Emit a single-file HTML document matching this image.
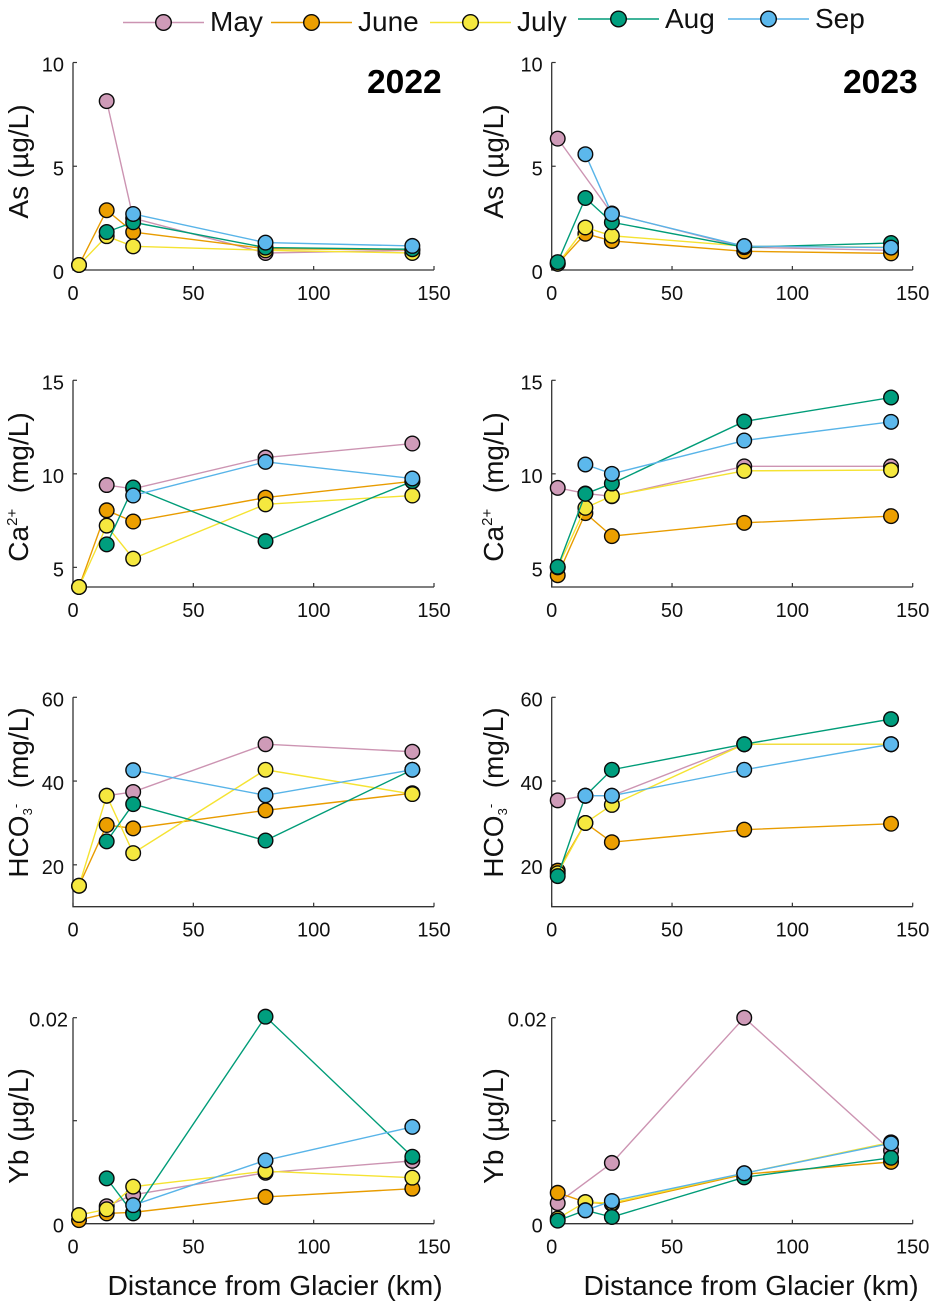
<!DOCTYPE html>
<html lang="en">
<head>
<meta charset="utf-8">
<title>Trace element concentrations vs distance from glacier</title>
<style>
  html, body { margin: 0; padding: 0; background: #fff; }
  svg { display: block; font-family: "Liberation Sans", Arial, sans-serif; }
</style>
</head>
<body>
<svg id="figure" xmlns="http://www.w3.org/2000/svg" width="935" height="1308" viewBox="0 0 935 1308">
  <g id="legend"></g>
  <g id="panels"></g>
  <text x="367" y="93" font-size="33.6" font-weight="bold" fill="#000">2022</text>
  <text x="843" y="93" font-size="33.6" font-weight="bold" fill="#000">2023</text>
  <text x="107.5" y="1295" font-size="28.2" fill="#111">Distance from Glacier (km)</text>
  <text x="583.5" y="1295" font-size="28.2" fill="#111">Distance from Glacier (km)</text>
</svg>
<script>
// ---- Data (null = no sample at that site) ----
const distanceKm = [2.5, 14, 25, 80, 141];
const xTicks = [0, 50, 100, 150];
const monthNames = ['May', 'June', 'July', 'Aug', 'Sep'];

const as2022May  = [null, 8.14, 2.5, 0.82, 0.95];
const as2022June = [0.24, 2.88, 1.83, 1.03, 0.98];
const as2022July = [0.24, 1.63, 1.14, 0.95, 0.82];
const as2022Aug  = [null, 1.83, 2.3, 1.08, 1.0];
const as2022Sep  = [null, null, 2.7, 1.32, 1.16];

const as2023May  = [6.33, null, 2.72, 1.1, 0.95];
const as2023June = [0.3, 1.75, 1.4, 0.9, 0.8];
const as2023July = [0.3, 2.05, 1.65, 1.15, 1.1];
const as2023Aug  = [0.38, 3.47, 2.3, 1.1, 1.3];
const as2023Sep  = [null, 5.58, 2.7, 1.15, 1.08];

const ca2022May  = [null, 9.4, 9.2, 10.87, 11.62];
const ca2022June = [3.95, 8.05, 7.45, 8.73, 9.6];
const ca2022July = [3.95, 7.23, 5.47, 8.37, 8.84];
const ca2022Aug  = [null, 6.23, 9.27, 6.4, 9.6];
const ca2022Sep  = [null, null, 8.84, 10.64, 9.75];

const ca2023May  = [9.25, 8.95, 8.8, 10.4, 10.4];
const ca2023June = [4.58, 7.9, 6.67, 7.38, 7.74];
const ca2023July = [5.0, 8.18, 8.82, 10.16, 10.2];
const ca2023Aug  = [5.03, 8.93, 9.48, 12.8, 14.08];
const ca2023Sep  = [null, 10.5, 10.0, 11.78, 12.78];

const hco2022May  = [null, 36.5, 37.4, 48.8, 47.0];
const hco2022June = [15, 29.5, 28.7, 33.0, 37.1];
const hco2022July = [15, 36.5, 22.8, 42.7, 36.9];
const hco2022Aug  = [null, 25.6, 34.5, 25.8, 42.7];
const hco2022Sep  = [null, null, 42.6, 36.6, 42.7];

const hco2023May  = [35.4, 36.5, 36.5, 48.8, 48.8];
const hco2023June = [18.6, 30.0, 25.4, 28.4, 29.8];
const hco2023July = [18.0, 30.0, 34.3, 48.8, 48.8];
const hco2023Aug  = [17.3, 36.5, 42.7, 48.8, 54.8];
const hco2023Sep  = [null, 36.5, 36.5, 42.7, 48.8];

const yb2022May  = [null, 0.0017, 0.0028, 0.00495, 0.0061];
const yb2022June = [0.00035, 0.001, 0.0011, 0.0026, 0.0034];
const yb2022July = [0.00084, 0.0014, 0.0036, 0.0051, 0.00447];
const yb2022Aug  = [null, 0.0044, 0.001, 0.0201, 0.0065];
const yb2022Sep  = [null, null, 0.0018, 0.00615, 0.0094];

const yb2023May  = [0.002, null, 0.0059, 0.02, 0.0071];
const yb2023June = [0.003, 0.0021, 0.0019, 0.0048, 0.006];
const yb2023July = [0.0005, 0.0021, 0.002, 0.0049, 0.0079];
const yb2023Aug  = [0.0003, 0.0013, 0.00065, 0.0045, 0.0064];
const yb2023Sep  = [null, 0.0013, 0.0022, 0.0049, 0.0078];

const asTicks = [0, 5, 10];
const asTickLabels = ['0', '5', '10'];
const caTicks = [5, 10, 15];
const caTickLabels = ['5', '10', '15'];
const hcoTicks = [20, 40, 60];
const hcoTickLabels = ['20', '40', '60'];
const ybTicks = [0, 0.01, 0.02];
const ybTickLabels = ['0', '', '0.02'];

// ---- Styling and layout ----
const lineColors = ['#CC94B2', '#E89C00', '#F5E332', '#009C78', '#58B4E8'];
const markerColors = ['#CF9BB8', '#EC9F00', '#F5E83F', '#009E7E', '#5CB8EC'];
const SVG_NS = 'http://www.w3.org/2000/svg';
const AXIS_COLOR = '#333333';

const columnLayout = [
  { year: '2022', x0: 73, x150: 434, labelX: 28 },
  { year: '2023', x0: 551.7, x150: 912.7, labelX: 503 }
];

const rowLayout = [
  { key: 'as', domain: [0, 10], top: 62.5, bottom: 270, ticks: asTicks, labels: asTickLabels, labelCenter: 161.5,
    series: { '2022': [as2022May, as2022June, as2022July, as2022Aug, as2022Sep],
              '2023': [as2023May, as2023June, as2023July, as2023Aug, as2023Sep] } },
  { key: 'ca', domain: [3.95, 15], top: 380.3, bottom: 587, ticks: caTicks, labels: caTickLabels, labelCenter: 487,
    series: { '2022': [ca2022May, ca2022June, ca2022July, ca2022Aug, ca2022Sep],
              '2023': [ca2023May, ca2023June, ca2023July, ca2023Aug, ca2023Sep] } },
  { key: 'hco3', domain: [10, 60], top: 697.3, bottom: 906.7, ticks: hcoTicks, labels: hcoTickLabels, labelCenter: 792.5,
    series: { '2022': [hco2022May, hco2022June, hco2022July, hco2022Aug, hco2022Sep],
              '2023': [hco2023May, hco2023June, hco2023July, hco2023Aug, hco2023Sep] } },
  { key: 'yb', domain: [0, 0.02], top: 1017.7, bottom: 1223.7, ticks: ybTicks, labels: ybTickLabels, labelCenter: 1126,
    series: { '2022': [yb2022May, yb2022June, yb2022July, yb2022Aug, yb2022Sep],
              '2023': [yb2023May, yb2023June, yb2023July, yb2023Aug, yb2023Sep] } }
];

function make(tag, attrs, parent) {
  const el = document.createElementNS(SVG_NS, tag);
  for (const k in attrs) el.setAttribute(k, attrs[k]);
  if (parent) parent.appendChild(el);
  return el;
}

function addSpan(textEl, str, size, dy) {
  const s = make('tspan', {}, textEl);
  if (size) s.setAttribute('font-size', size);
  if (dy) s.setAttribute('dy', dy);
  s.textContent = str;
}

function writeYLabel(textEl, key) {
  if (key === 'as') {
    addSpan(textEl, 'As (\u00B5g/L)');
  } else if (key === 'ca') {
    addSpan(textEl, 'Ca');
    addSpan(textEl, '2+', 15, -11);
    addSpan(textEl, '\u00A0 (mg/L)', 28, 11);
  } else if (key === 'hco3') {
    addSpan(textEl, 'HCO');
    addSpan(textEl, '3', 13, 4);
    addSpan(textEl, '-', 13, -12);
    addSpan(textEl, '\u00A0 (mg/L)', 28, 8);
  } else {
    addSpan(textEl, 'Yb (\u00B5g/L)');
  }
}

function drawPanel(col, row, parent) {
  const panelKey = row.key + '-' + col.year;
  const g = make('g', {}, parent);
  
  

  const xScale = v => col.x0 + (v / 150) * (col.x150 - col.x0);
  const yScale = v => row.bottom - ((v - row.domain[0]) / (row.domain[1] - row.domain[0])) * (row.bottom - row.top);

  // axes
  const axis = make('path', {
    d: 'M' + col.x0 + ' ' + row.top + 'V' + row.bottom + 'H' + col.x150,
    fill: 'none', stroke: AXIS_COLOR, 'stroke-width': 1.3
  }, g);
  
  

  xTicks.forEach(t => {
    const x = xScale(t);
    const tick = make('line', { x1: x, x2: x, y1: row.bottom, y2: row.bottom - 4, stroke: AXIS_COLOR, 'stroke-width': 1.2 }, g);
    
    
    const label = make('text', { x: x, y: row.bottom + 30, 'font-size': 20, 'text-anchor': 'middle', fill: '#111' }, g);
    
    
    label.textContent = String(t);
  });

  row.ticks.forEach((t, i) => {
    const y = yScale(t);
    const tick = make('line', { x1: col.x0, x2: col.x0 + 4, y1: y, y2: y, stroke: AXIS_COLOR, 'stroke-width': 1.2 }, g);
    
    
    if (row.labels[i]) {
      const labelGap = row.labels[i].length > 2 ? 5 : 9;
      const label = make('text', { x: col.x0 - labelGap, y: y + 9, 'font-size': 20, 'text-anchor': 'end', fill: '#111' }, g);
      
      
      label.textContent = row.labels[i];
    }
  });

  const yTitle = make('text', {
    'font-size': 28, fill: '#111', 'text-anchor': 'middle',
    transform: 'translate(' + col.labelX + ' ' + row.labelCenter + ') rotate(-90)'
  }, g);
  
  
  writeYLabel(yTitle, row.key);

  // series, drawn in month order so later months sit on top
  row.series[col.year].forEach((values, m) => {
    const sg = make('g', {}, g);
    
    
    const pts = [];
    values.forEach((v, i) => {
      if (v !== null) pts.push([xScale(distanceKm[i]), yScale(v)]);
    });
    const line = make('polyline', {
      points: pts.map(p => p[0].toFixed(2) + ',' + p[1].toFixed(2)).join(' '),
      fill: 'none', stroke: lineColors[m], 'stroke-width': 1.4
    }, sg);
    
    
    pts.forEach(p => {
      const dot = make('circle', {
        cx: p[0].toFixed(2), cy: p[1].toFixed(2), r: 7.3,
        fill: markerColors[m], stroke: '#0a0a0a', 'stroke-width': 1.4
      }, sg);
      
      
    });
  });
}

const panelsRoot = document.getElementById('panels');
rowLayout.forEach(row => columnLayout.forEach(col => drawPanel(col, row, panelsRoot)));

// ---- Legend ----
const legendLineX = [123, 271, 430, 578, 728];
const legendLineY = [22.5, 22.5, 22.5, 19, 19];
const legendTextY = [31, 31, 31, 28, 28];
const legendRoot = document.getElementById('legend');
monthNames.forEach((name, i) => {
  const g = make('g', {}, legendRoot);
  
  
  const x = legendLineX[i];
  const y = legendLineY[i];
  const swatch = make('line', { x1: x, x2: x + 81, y1: y, y2: y, stroke: lineColors[i], 'stroke-width': 1.4 }, g);
  
  
  const dot = make('circle', { cx: x + 40.5, cy: y, r: 7.8, fill: markerColors[i], stroke: '#0a0a0a', 'stroke-width': 1.4 }, g);
  
  
  const label = make('text', { x: x + 87, y: legendTextY[i], 'font-size': 28, fill: '#111' }, g);
  
  
  label.textContent = name;
});
</script>
</body>
</html>
